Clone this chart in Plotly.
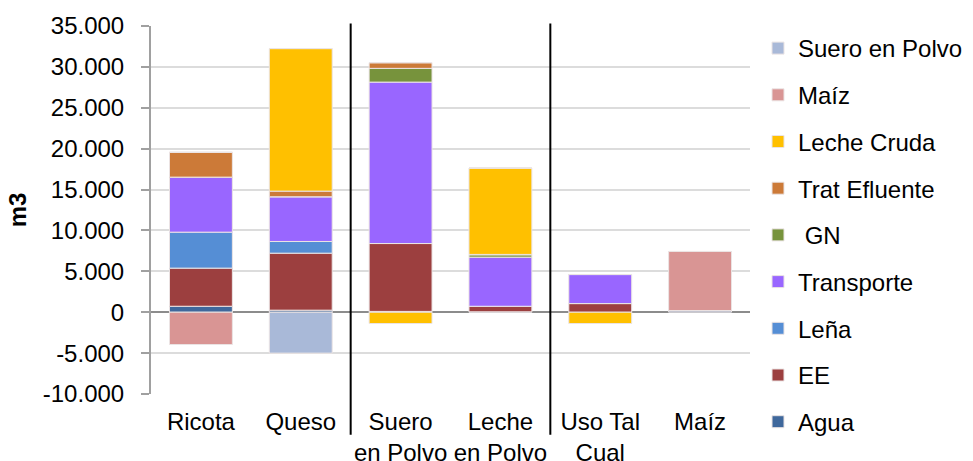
import plotly.graph_objects as go

categories = ["Ricota", "Queso", "Suero<br>en Polvo", "Leche<br>en Polvo", "Uso Tal<br>Cual", "Maíz"]

agua = [730, 250, 100, 50, 0, 200]
ee = [4660, 6970, 8300, 680, 1060, 0]
lena = [4400, 1430, 0, 0, 0, 0]
transporte = [6730, 5470, 19740, 6000, 3550, 0]
gn = [0, 0, 1680, 290, 0, 0]
trat_efluente = [3030, 690, 700, 50, 0, 0]
leche_cruda = [0, 17430, -1380, 10570, -1380, 0]
maiz = [-3950, 0, 0, 0, 0, 7230]
suero_polvo = [0, -5000, 0, 0, 0, 0]

ytick_vals = [-10000, -5000, 0, 5000, 10000, 15000, 20000, 25000, 30000, 35000]
ytick_labels = ["-10.000", "-5.000", "0", "5.000", "10.000", "15.000", "20.000", "25.000", "30.000", "35.000"]

series = [
    ("Agua", agua, "#3F689C"),
    ("EE", ee, "#9C3F3F"),
    ("Leña", lena, "#558ED5"),
    ("Transporte", transporte, "#9966FF"),
    (" GN", gn, "#77933C"),
    ("Trat Efluente", trat_efluente, "#CC7A38"),
    ("Leche Cruda", leche_cruda, "#FFC000"),
    ("Maíz", maiz, "#D99594"),
    ("Suero en Polvo", suero_polvo, "#A9B9D8"),
]

FONT = "Liberation Sans, Arial, sans-serif"

fig = go.Figure()
n = len(series)
for i, (name, vals, color) in enumerate(series):
    fig.add_trace(go.Bar(
        name=name, x=categories, y=vals, legendgroup=name,
        legendrank=1000 + (n - i),
        marker=dict(color=color, line=dict(color="rgba(235,228,228,1)", width=1)),
    ))

fig.update_layout(
    width=973, height=461,
    margin=dict(l=151, r=223, t=26, b=67),
    barmode="relative",
    bargap=0.37,
    plot_bgcolor="white",
    paper_bgcolor="white",
    font=dict(family=FONT, size=24, color="black"),
    showlegend=True,
    legend=dict(
        traceorder="grouped",
        xref="container", yref="container",
        x=758 / 973, xanchor="left", y=1 - 26 / 461, yanchor="top",
        font=dict(size=24), tracegroupgap=12.5, bgcolor="rgba(0,0,0,0)",
        maxheight=461,
    ),
    xaxis=dict(
        type="category", range=[-0.5, 5.5], showgrid=False, showline=False,
        ticks="", automargin=False, tickfont=dict(size=24),
        ticklabelstandoff=11,
    ),
    xaxis2=dict(
        overlaying="x", anchor="free", position=10000 / 45000, type="linear",
        range=[-0.5, 5.5], tickvals=[0.5, 1.5, 2.5, 3.5, 4.5], ticks="outside",
        ticklen=7, tickwidth=2, tickcolor="#999999", showticklabels=False,
        showgrid=False, showline=False, zeroline=False,
    ),
    yaxis=dict(
        range=[-10000, 35000], tickvals=ytick_vals, ticktext=ytick_labels,
        showgrid=True, gridcolor="#DCDCDC", gridwidth=2,
        zeroline=True, zerolinecolor="#8C8C8C", zerolinewidth=2,
        showline=True, linecolor="#A0A0A0", linewidth=2,
        ticks="outside", ticklen=8, tickwidth=2, tickcolor="#A0A0A0",
        ticklabelstandoff=12, automargin=False, tickfont=dict(size=24),
        title=dict(text="<b>m3</b>", font=dict(size=24), standoff=9),
    ),
)

for xb in [1.5, 3.5]:
    fig.add_shape(type="line", xref="x", yref="paper", x0=xb, x1=xb,
                  y0=-0.111, y1=1.007, line=dict(color="black", width=2))

fig.write_html("out.html")
